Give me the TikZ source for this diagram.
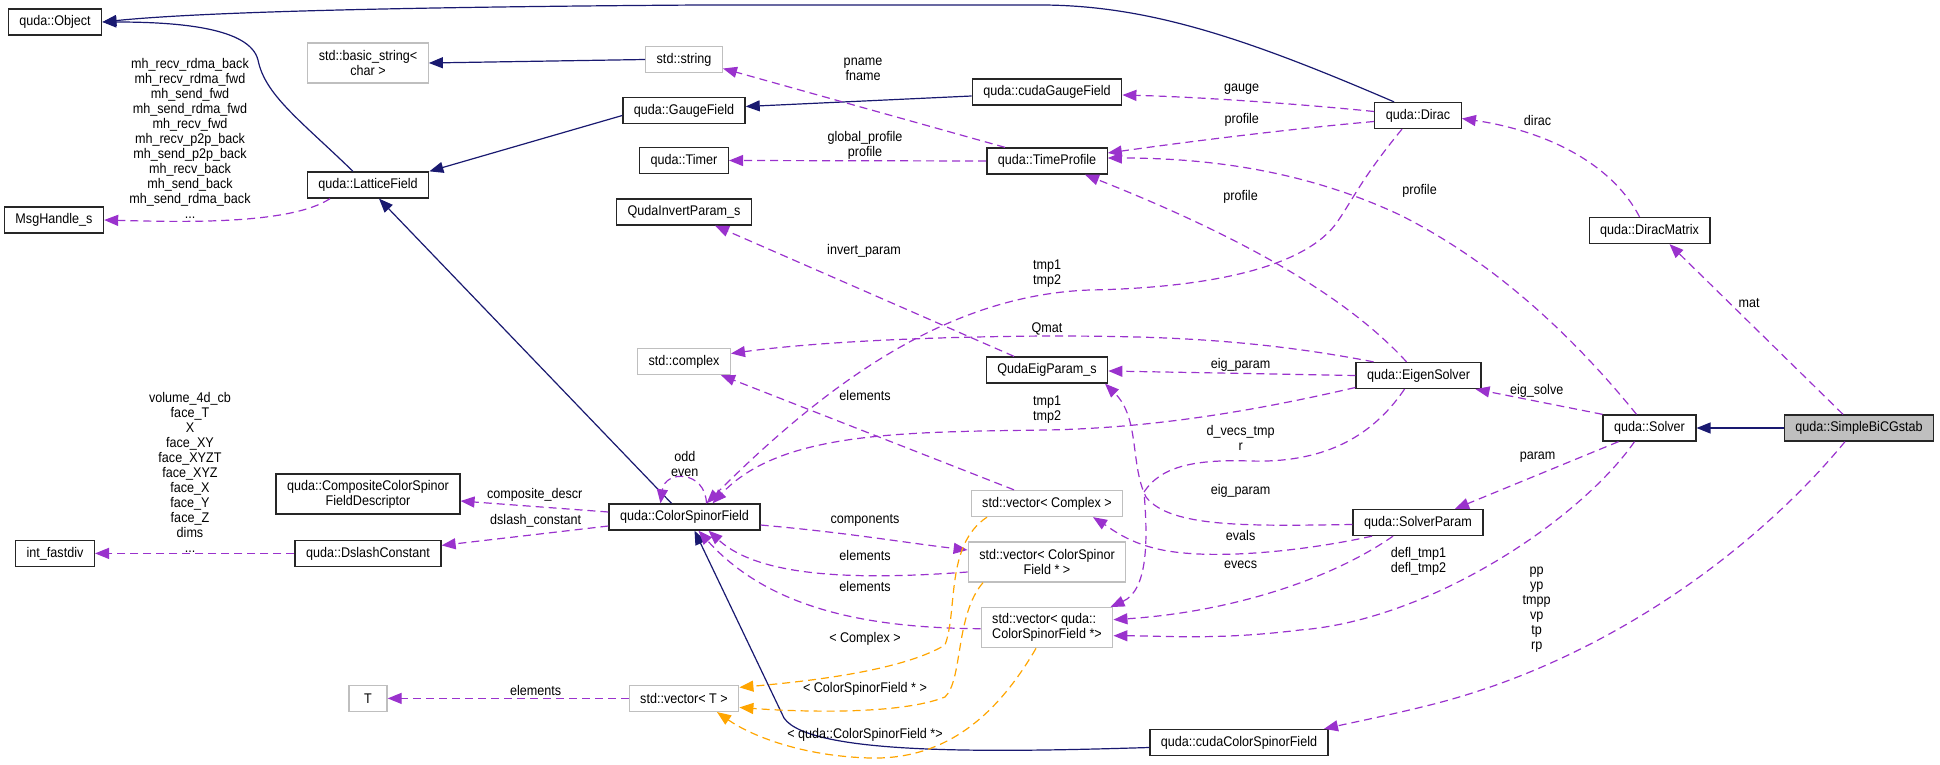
\documentclass[tikz,border=0pt]{standalone}
\usepackage{fontspec}
\setmainfont{Liberation Sans}[FakeStretch=0.9]
\usetikzlibrary{arrows.meta}
\definecolor{usec}{HTML}{9A32CD}
\definecolor{inhc}{HTML}{191970}
\definecolor{tplc}{HTML}{FFA500}
\definecolor{gbord}{HTML}{BFBFBF}
\newcommand{\dxfont}{\fontsize{14pt}{15pt}\selectfont}
\tikzset{
  cls/.style={draw=black!85, line width=1.3pt, fill=white, inner xsep=11pt, inner ysep=2pt,
    minimum height=26pt, font=\dxfont, align=center},
  ext/.style={cls, draw=gbord},
  cur/.style={cls, fill=gbord},
  two/.style={minimum height=40pt},
  inh/.style={draw=inhc, line width=1.2pt, -{Triangle[length=14pt,width=11pt]}},
  use/.style={draw=usec, line width=1.2pt, dash pattern=on 8pt off 5pt, -{Triangle[length=14pt,width=11pt]}},
  tpl/.style={use, draw=tplc},
  lbl/.style={font=\dxfont, align=center, inner sep=0pt}
}
\begin{document}
\begin{tikzpicture}[x=1pt,y=-1pt]
\useasboundingbox (0,0) rectangle (1940,765);
% nodes
\node[cls] (obj) at (55,22) {quda::Object};
\node[cls] (msg) at (54,220) {MsgHandle\_s};
\node[cls] (fastdiv) at (55,553.4) {int\_fastdiv};
\node[ext,two] (bstr) at (368,63) {std::basic\_string<\\char >};
\node[cls] (lattice) at (368,185) {quda::LatticeField};
\node[cls,two] (ccsfd) at (368,494) {quda::CompositeColorSpinor\\FieldDescriptor};
\node[cls] (dslash) at (368,553.4) {quda::DslashConstant};
\node[ext, minimum width=38pt] (T) at (368,698.4) {T};
\node[ext] (str) at (684,59.5) {std::string};
\node[cls] (gauge) at (684,110.5) {quda::GaugeField};
\node[cls] (timer) at (684,160.5) {quda::Timer};
\node[cls] (qip) at (684,212) {QudaInvertParam\_s};
\node[ext] (cplx) at (684,361.5) {std::complex};
\node[cls] (csf) at (684.5,517) {quda::ColorSpinorField};
\node[ext] (vT) at (684,698.4) {std::vector< T >};
\node[cls] (cgauge) at (1047,92) {quda::cudaGaugeField};
\node[cls] (tprof) at (1047,161) {quda::TimeProfile};
\node[cls] (qep) at (1047,370) {QudaEigParam\_s};
\node[ext] (vcplx) at (1047,503.5) {std::vector< Complex >};
\node[ext,two] (vcsf) at (1047,562) {std::vector< ColorSpinor\\Field * >};
\node[ext,two,align=left] (vqcsf) at (1047,627.7) {std::vector< quda::\\ColorSpinorField *>};
\node[cls] (ccsf) at (1239,742.5) {quda::cudaColorSpinorField};
\node[cls] (dirac) at (1418,115.5) {quda::Dirac};
\node[cls] (eigen) at (1418.5,375.5) {quda::EigenSolver};
\node[cls] (sparam) at (1418,522.5) {quda::SolverParam};
\node[cls] (dmat) at (1649.5,230.5) {quda::DiracMatrix};
\node[cls] (solver) at (1649.5,428) {quda::Solver};
\node[cur] (bicg) at (1859,428) {quda::SimpleBiCGstab};
% inheritance
\draw[inh] ([xshift=-24pt]dirac.north) .. controls (1250,40) and (1150,5) .. (1040,5) -- (700,5) .. controls (400,7) and (200,12) .. (obj.east);
\draw[inh] ([xshift=-15pt]lattice.north) .. controls (300,120) and (265,95) .. (258,60) .. controls (250,28) and (180,22) .. (obj.east);
\draw[inh] ([yshift=-5pt]gauge.west) -- (lattice.north east);
\draw[inh] ([yshift=-4pt]cgauge.west) -- ([yshift=4pt]gauge.east);
\draw[inh] ([xshift=-13pt]csf.north) -- ([xshift=11pt]lattice.south);
\draw[inh] ([yshift=-5pt]ccsf.west) .. controls (1000,752) and (810,756) .. (784,718) -- ([xshift=10pt]csf.south);
\draw[inh] (bicg.west) -- (solver.east);
\draw[inh] (str.west) -- (bstr.east);
% usage
\draw[use] ([xshift=-38pt]lattice.south) .. controls (290,225) and (180,222) .. (msg.east);
\draw[use] ([xshift=-42pt]tprof.north) -- ([yshift=-9pt]str.east);
\draw[use] ([yshift=4pt]dirac.west) .. controls (1300,104) and (1200,97) .. ([yshift=-3pt]cgauge.east);
\draw[use] ([yshift=-6pt]dirac.west) .. controls (1300,128) and (1200,140) .. ([yshift=8pt]tprof.east);
\draw[use] ([xshift=-13pt]solver.north) .. controls (1560,320) and (1480,255) .. (1400,215) .. controls (1300,168) and (1200,158) .. ([yshift=3pt]tprof.east);
\draw[use] ([xshift=-12pt]eigen.north) .. controls (1350,300) and (1250,240) .. ([xshift=38pt]tprof.south);
\draw[use] ([xshift=-16pt]dirac.south) .. controls (1360,180) and (1350,205) .. (1335,225) .. controls (1300,270) and (1200,288) .. (1090,290) .. controls (950,295) and (830,380) .. ([xshift=22pt]csf.north);
\draw[use] ([xshift=-45pt]eigen.north) .. controls (1250,338) and (1150,336) .. (1047,336) .. controls (900,337) and (800,344) .. ([yshift=8pt]cplx.east);
\draw[use] (eigen.west) -- ([yshift=-1pt]qep.east);
\draw[use] ([yshift=-12pt]eigen.west) .. controls (1250,412) and (1150,428) .. (1047,430) .. controls (900,432) and (780,432) .. ([xshift=28pt]csf.north);
\draw[use] ([xshift=-33pt]qep.north) -- ([xshift=31pt]qip.south);
\draw[use] ([yshift=-2pt]sparam.west) .. controls (1250,526) and (1170,528) .. (1146,497) .. controls (1130,465) and (1140,418) .. ([xshift=58pt]qep.south);
\draw[use] ([xshift=-46pt]sparam.south) .. controls (1300,552) and (1200,562) .. (1150,547) .. controls (1125,540) and (1110,528) .. ([xshift=46pt]vcplx.south);
\draw[use] ([xshift=-25pt]sparam.south) .. controls (1330,580) and (1230,612) .. ([yshift=8pt]vqcsf.east);
\draw[use] ([xshift=-15pt]solver.south) .. controls (1580,520) and (1430,620) .. (1300,630) .. controls (1220,640) and (1170,636) .. ([yshift=-8pt]vqcsf.east);
\draw[use] ([xshift=-14pt]eigen.south) .. controls (1370,440) and (1320,463) .. (1250,461) .. controls (1190,459) and (1160,468) .. (1144,492) .. controls (1148,540) and (1148,590) .. ([xshift=-3pt]vqcsf.north east);
\draw[use] (solver.north west) -- ([xshift=57pt]eigen.south);
\draw[use] ([xshift=-31pt]solver.south) -- ([xshift=37pt]sparam.north);
\draw[use] ([xshift=-10pt]dmat.north) .. controls (1610,160) and (1540,130) .. ([yshift=-3pt]dirac.east);
\draw[use] ([xshift=-16pt]bicg.north) -- ([xshift=20pt]dmat.south);
\draw[use] ([xshift=-14pt]bicg.south) .. controls (1760,545) and (1610,660) .. (1430,705) .. controls (1390,715) and (1355,722) .. ([xshift=85pt]ccsf.north);
\draw[use] (tprof.west) -- (timer.east);
\draw[use] ([yshift=5pt]csf.west) -- ([yshift=-7pt]ccsfd.east);
\draw[use] ([yshift=-9pt]csf.west) -- ([yshift=8pt]dslash.east);
\draw[use] (dslash.west) -- (fastdiv.east);
\draw[use] ([xshift=22pt]csf.north) .. controls (705,470) and (665,470) .. ([xshift=-24pt]csf.north);
\draw[use] ([yshift=-8pt]csf.east) .. controls (850,533) and (900,542) .. ([yshift=12pt]vcsf.west);
\draw[use] ([yshift=-10pt]vcsf.west) .. controls (860,580) and (760,578) .. ([xshift=24pt]csf.south);
\draw[use] ([yshift=-1pt]vqcsf.west) .. controls (870,628) and (770,610) .. ([xshift=14pt]csf.south);
\draw[use] ([xshift=-33pt]vcplx.north) -- ([xshift=37pt]cplx.south);
\draw[use] (vT.west) -- (T.east);
% template instances
\draw[tpl] ([xshift=-60pt]vcplx.south) .. controls (945,545) and (958,610) .. (945,645) .. controls (900,672) and (800,682) .. ([yshift=11pt]vT.east);
\draw[tpl] ([xshift=-64pt]vcsf.south) .. controls (955,615) and (963,680) .. (945,697) .. controls (900,715) and (800,712) .. ([yshift=-9pt]vT.east);
\draw[tpl] ([xshift=-11pt]vqcsf.south) .. controls (1000,710) and (950,760) .. (870,758) .. controls (800,756) and (750,735) .. ([xshift=33pt]vT.south);
% labels
\node[lbl] (lmh) at (190,138.8) {mh\_recv\_rdma\_back\\mh\_recv\_rdma\_fwd\\mh\_send\_fwd\\mh\_send\_rdma\_fwd\\mh\_recv\_fwd\\mh\_recv\_p2p\_back\\mh\_send\_p2p\_back\\mh\_recv\_back\\mh\_send\_back\\mh\_send\_rdma\_back\\...};
\node[lbl] (lvol) at (190,472.9) {volume\_4d\_cb\\face\_T\\X\\face\_XY\\face\_XYZT\\face\_XYZ\\face\_X\\face\_Y\\face\_Z\\dims\\...};
\node[lbl] (lpn) at (863,69.7) {pname\\fname};
\node[lbl] (lgauge) at (1241.7,89.3) {gauge};
\node[lbl] (lprof1) at (1241.7,120) {profile};
\node[lbl] (lgp) at (865,145.7) {global\_profile\\profile};
\node[lbl] (lprof2) at (1240.6,196.7) {profile};
\node[lbl] (lprof3) at (1419.6,190.7) {profile};
\node[lbl] (ldirac) at (1537.6,120.7) {dirac};
\node[lbl] (linv) at (864,250.7) {invert\_param};
\node[lbl] (ltmpa) at (1047,273.7) {tmp1\\tmp2};
\node[lbl] (lqmat) at (1047,329) {Qmat};
\node[lbl] (lep1) at (1240.6,365) {eig\_param};
\node[lbl] (lel1) at (865,395.7) {elements};
\node[lbl] (ltmpb) at (1047,410) {tmp1\\tmp2};
\node[lbl] (ldv) at (1240.6,438.3) {d\_vecs\_tmp\\r};
\node[lbl] (les) at (1536.7,390.7) {eig\_solve};
\node[lbl] (lmat) at (1749,303.3) {mat};
\node[lbl] (lparam) at (1537.6,456.7) {param};
\node[lbl] (lodd) at (684.8,464.2) {odd\\even};
\node[lbl] (lep2) at (1240.6,490.7) {eig\_param};
\node[lbl] (lcd) at (534.8,495) {composite\_descr};
\node[lbl] (lcomp) at (865,520) {components};
\node[lbl] (lds) at (535.7,520.7) {dslash\_constant};
\node[lbl] (levals) at (1240.6,535.7) {evals};
\node[lbl] (lel2) at (865,555.7) {elements};
\node[lbl] (ldefl) at (1418.4,561.7) {defl\_tmp1\\defl\_tmp2};
\node[lbl] (levecs) at (1240.6,564.3) {evecs};
\node[lbl] (lel3) at (865,586.7) {elements};
\node[lbl] (lpp) at (1536.7,609.7) {pp\\yp\\tmpp\\vp\\tp\\rp};
\node[lbl] (ltc) at (865,639) {< Complex >};
\node[lbl] (ltcsf) at (865,689) {< ColorSpinorField * >};
\node[lbl] (lel4) at (535.7,690.7) {elements};
\node[lbl] (ltq) at (865,735) {< quda::ColorSpinorField *>};
\end{tikzpicture}
\end{document}
